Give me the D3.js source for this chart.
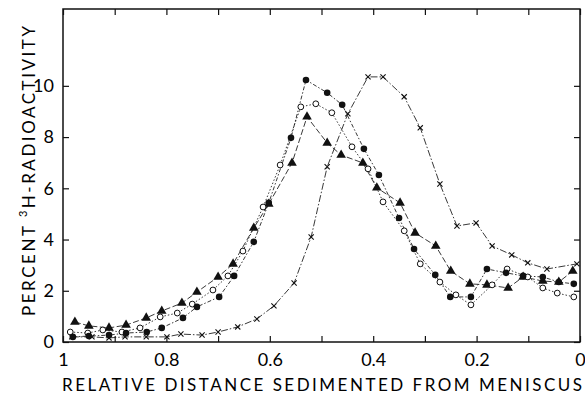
<!DOCTYPE html>
<html>
<head>
<meta charset="utf-8">
<script src="https://cdn.jsdelivr.net/npm/d3@7"></script>
<style>
  html, body { margin: 0; padding: 0; background: #fff; }
  svg { display: block; }
  text { font-family: "Lato", "DejaVu Sans", sans-serif; fill: #000; }
</style>
</head>
<body>
<svg id="chart" width="585" height="400"></svg>
<script>
// ---- data ----
const xTicks = [1, 0.9, 0.8, 0.7, 0.6, 0.5, 0.4, 0.3, 0.2, 0.1, 0];
const xTickLabels = ["1", "", "0.8", "", "0.6", "", "0.4", "", "0.2", "", "0"];
const yTicks = [0, 2, 4, 6, 8, 10];
const yTickLabels = ["0", "2", "4", "6", "8", "10"];

const filledX = [0.981,0.950,0.911,0.878,0.838,0.809,0.768,0.741,0.698,0.669,0.631,0.602,0.559,0.530,0.489,0.460,0.418,0.389,0.350,0.321,0.280,0.251,0.211,0.180,0.143,0.110,0.072,0.041,0.012];
const filledY = [0.20,0.23,0.27,0.35,0.39,0.55,0.94,1.37,1.76,2.58,3.91,5.43,7.97,10.23,9.73,9.26,7.54,6.52,4.84,3.63,2.62,1.76,1.76,2.85,2.70,2.58,2.54,2.34,2.27];

const openX = [0.986,0.952,0.923,0.886,0.851,0.812,0.779,0.750,0.710,0.681,0.652,0.613,0.580,0.540,0.511,0.480,0.441,0.410,0.381,0.340,0.309,0.271,0.240,0.211,0.170,0.141,0.101,0.072,0.044,0.012];
const openY = [0.39,0.35,0.47,0.39,0.55,0.98,1.13,1.48,2.03,2.58,3.55,5.27,6.91,9.18,9.30,8.95,7.62,6.76,5.47,4.34,3.05,2.34,1.84,1.45,2.23,2.85,2.54,2.11,1.91,1.76];

const triX = [0.977,0.950,0.911,0.878,0.839,0.809,0.770,0.741,0.700,0.671,0.631,0.602,0.557,0.528,0.489,0.462,0.420,0.393,0.348,0.319,0.279,0.250,0.213,0.180,0.139,0.110,0.072,0.041,0.014];
const triY = [0.78,0.63,0.55,0.66,0.94,1.21,1.52,1.95,2.54,3.05,4.45,5.39,6.99,8.79,7.77,7.30,6.99,6.02,5.43,4.26,3.75,2.77,2.27,2.23,2.11,2.54,2.38,2.34,2.77];

const crossX = [0.983,0.944,0.911,0.880,0.839,0.799,0.772,0.731,0.700,0.662,0.625,0.592,0.553,0.520,0.489,0.449,0.410,0.381,0.340,0.309,0.271,0.238,0.201,0.170,0.132,0.101,0.064,0.006];
const crossY = [0.20,0.20,0.16,0.20,0.20,0.20,0.31,0.27,0.39,0.59,0.90,1.41,2.30,4.10,6.84,8.91,10.35,10.35,9.57,8.36,6.17,4.53,4.65,3.75,3.40,3.09,2.85,3.05];

const xLabel = "RELATIVE DISTANCE SEDIMENTED FROM MENISCUS";
const yLabelPre = "PERCENT ";
const yLabelSup = "3";
const yLabelPost = "H-RADIOACTIVITY";

// ---- layout ----
const svg = d3.select("#chart");
const L = 63, R = 580, T = 9, B = 342;
const x = d3.scaleLinear().domain([1, 0]).range([L, R]);
const y = d3.scaleLinear().domain([0, 13]).range([B, T]);

const zip = (xs, ys) => xs.map((v, i) => ({x: v, y: ys[i]}));
const line = d3.line().x(d => x(d.x)).y(d => y(d.y));

// frame
svg.append("rect").attr("x", L).attr("y", T).attr("width", R - L).attr("height", B - T)
  .attr("fill", "none").attr("stroke", "#111").attr("stroke-width", 1.5);

// axes with inward ticks
const tl = 6;
const styleText = g => g.selectAll("text").attr("font-size", 18).attr("font-weight", 400)
  .attr("fill", "#000").style("font-family", "Lato, 'DejaVu Sans', sans-serif");
svg.append("g").attr("transform", `translate(0,${B})`)
  .call(d3.axisBottom(x).tickValues(xTicks).tickSizeInner(-tl).tickSizeOuter(0).tickFormat((d, i) => xTickLabels[i]).tickPadding(11))
  .call(g => g.select(".domain").remove())
  .call(g => g.selectAll("line").attr("stroke", "#111").attr("stroke-width", 1.2))
  .call(styleText);
svg.append("g").attr("transform", `translate(0,${T})`)
  .call(d3.axisTop(x).tickValues(xTicks).tickSizeInner(-tl).tickSizeOuter(0).tickFormat(""))
  .call(g => g.select(".domain").remove())
  .call(g => g.selectAll("line").attr("stroke", "#111").attr("stroke-width", 1.2));
svg.append("g").attr("transform", `translate(${L},0)`)
  .call(d3.axisLeft(y).tickValues(yTicks).tickSizeInner(-tl).tickSizeOuter(0).tickFormat((d, i) => yTickLabels[i]).tickPadding(9))
  .call(g => g.select(".domain").remove())
  .call(g => g.selectAll("line").attr("stroke", "#111").attr("stroke-width", 1.2))
  .call(styleText);
svg.append("g").attr("transform", `translate(${R},0)`)
  .call(d3.axisRight(y).tickValues(yTicks).tickSizeInner(-tl).tickSizeOuter(0).tickFormat(""))
  .call(g => g.select(".domain").remove())
  .call(g => g.selectAll("line").attr("stroke", "#111").attr("stroke-width", 1.2));

// series lines
const series = [
  {data: zip(crossX, crossY), dash: "7,2,1.5,2", type: "cross"},
  {data: zip(triX, triY), dash: "6,2.5", type: "tri"},
  {data: zip(openX, openY), dash: "1.5,2", type: "open"},
  {data: zip(filledX, filledY), dash: "4,2,1.5,2", type: "filled"}
];
series.forEach(s => {
  svg.append("path").datum(s.data).attr("d", line)
    .attr("fill", "none").attr("stroke", "#222").attr("stroke-width", 0.9)
    .attr("stroke-dasharray", s.dash);
});

// markers
series.forEach(s => {
  const g = svg.append("g");
  if (s.type === "filled") {
    g.selectAll("circle").data(s.data).join("circle")
      .attr("cx", d => x(d.x)).attr("cy", d => y(d.y)).attr("r", 3.3).attr("fill", "#111");
  } else if (s.type === "open") {
    g.selectAll("circle").data(s.data).join("circle")
      .attr("cx", d => x(d.x)).attr("cy", d => y(d.y)).attr("r", 2.9)
      .attr("fill", "#fff").attr("stroke", "#111").attr("stroke-width", 1);
  } else if (s.type === "tri") {
    g.selectAll("path").data(s.data).join("path")
      .attr("d", d3.symbol().type(d3.symbolTriangle).size(40))
      .attr("transform", d => `translate(${x(d.x)},${y(d.y)})`).attr("fill", "#111");
  } else {
    const h = 2.6;
    g.selectAll("path").data(s.data).join("path")
      .attr("d", d => {
        const cx = x(d.x), cy = y(d.y);
        return `M${cx - h},${cy - h}L${cx + h},${cy + h}M${cx - h},${cy + h}L${cx + h},${cy - h}`;
      })
      .attr("stroke", "#111").attr("stroke-width", 1.1).attr("fill", "none");
  }
});

// axis titles
svg.append("text").attr("x", 322).attr("y", 391).attr("text-anchor", "middle")
  .attr("font-size", 17).attr("font-weight", 400)
  .attr("textLength", 520).attr("lengthAdjust", "spacing").text(xLabel);

const yl = svg.append("text").attr("transform", "translate(35,171) rotate(-90)")
  .attr("text-anchor", "middle").attr("font-size", 17).attr("font-weight", 400)
  .attr("textLength", 290).attr("lengthAdjust", "spacing");
yl.append("tspan").text(yLabelPre);
yl.append("tspan").attr("font-size", 11).attr("dy", -8).text(yLabelSup);
yl.append("tspan").attr("dy", 8).text(yLabelPost);
</script>
</body>
</html>
